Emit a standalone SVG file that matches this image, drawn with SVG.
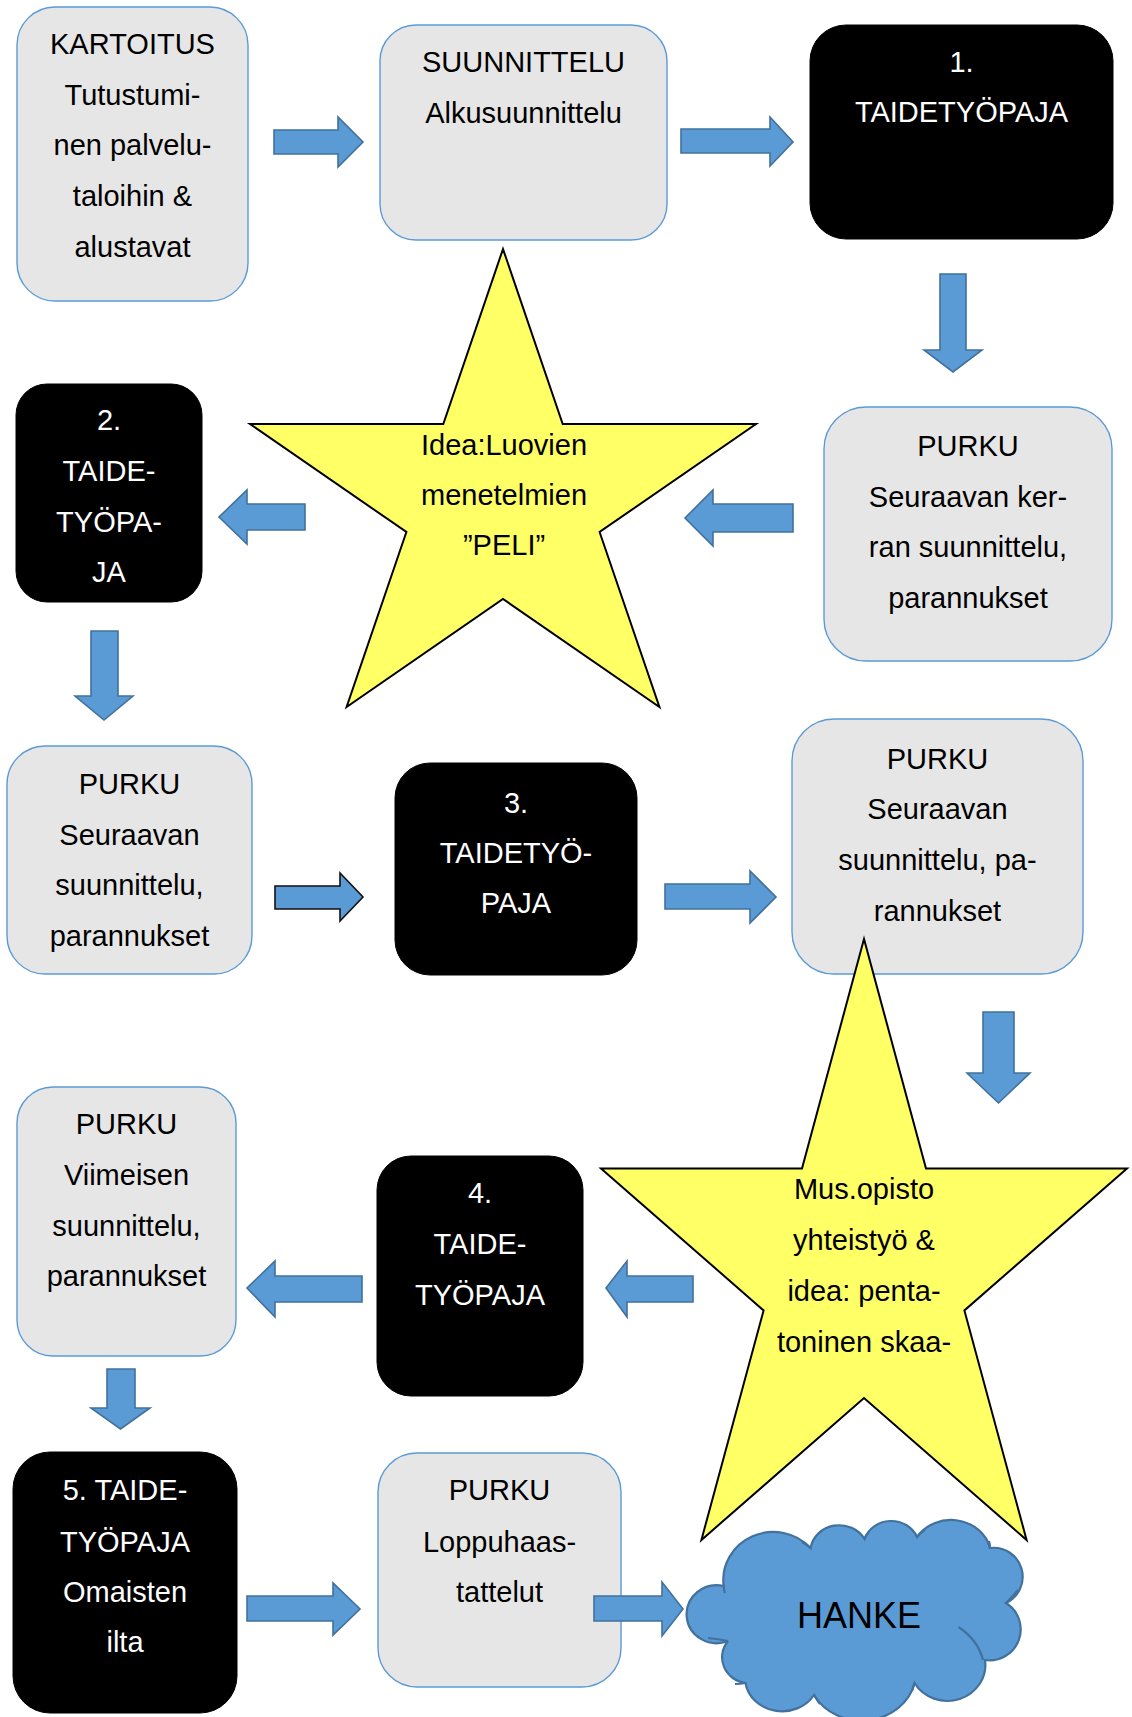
<svg xmlns="http://www.w3.org/2000/svg" width="1132" height="1717" viewBox="0 0 1132 1717">
<style>
.box{fill:#e7e6e6;stroke:#5b9bd5;stroke-width:1.4}
.blk{fill:#000;stroke:#000;stroke-width:1}
.star{fill:#ffff66;stroke:#000;stroke-width:2;stroke-linejoin:miter}
.arr{fill:#5b9bd5;stroke:#41719c;stroke-width:1.6;stroke-linejoin:miter}
.arrk{fill:#5b9bd5;stroke:#111;stroke-width:1.6;stroke-linejoin:miter}
.cloud{fill:#5b9bd5;stroke:#41719c;stroke-width:2.2}
.inner{fill:none;stroke:#41719c;stroke-width:2.2}
text{font-family:"Liberation Sans",Arial,sans-serif;font-size:29px;text-anchor:middle}
.k{fill:#000}
.w{fill:#fff}
</style>
<rect width="1132" height="1717" fill="#fff"/>
<g id="kartoitus">
  <rect class="box" x="17" y="7" width="231" height="294" rx="38"/>
  <text class="k" x="132.5" y="54">KARTOITUS</text>
  <text class="k" x="132.5" y="104.7">Tutustumi-</text>
  <text class="k" x="132.5" y="155.4">nen palvelu-</text>
  <text class="k" x="132.5" y="206">taloihin &amp;</text>
  <text class="k" x="132.5" y="256.8">alustavat</text>
</g>
<g id="suunnittelu">
  <rect class="box" x="380" y="25" width="287" height="215" rx="36"/>
  <text class="k" x="523.5" y="72">SUUNNITTELU</text>
  <text class="k" x="523.5" y="122.5">Alkusuunnittelu</text>
</g>
<g id="tp1">
  <rect class="blk" x="810" y="25" width="303" height="214" rx="36"/>
  <text class="w" x="961.5" y="72">1.</text>
  <text class="w" x="961.5" y="122">TAIDETYÖPAJA</text>
</g>
<g id="purku1">
  <rect class="box" x="824" y="407" width="288" height="254" rx="42"/>
  <text class="k" x="968" y="456">PURKU</text>
  <text class="k" x="968" y="507">Seuraavan ker-</text>
  <text class="k" x="968" y="557">ran suunnittelu,</text>
  <text class="k" x="968" y="608">parannukset</text>
</g>
<g id="star1">
  <polygon class="star" points="503,249 562.7,424 756,424 599.6,532 659.4,707 503,599 346.6,707 406.4,532 250,424 443.3,424"/>
  <text class="k" x="504" y="455">Idea:Luovien</text>
  <text class="k" x="504" y="505">menetelmien</text>
  <text class="k" x="504" y="555">”PELI”</text>
</g>
<g id="tp2">
  <rect class="blk" x="16" y="384" width="186" height="218" rx="31"/>
  <text class="w" x="109" y="430">2.</text>
  <text class="w" x="109" y="481">TAIDE-</text>
  <text class="w" x="109" y="532">TYÖPA-</text>
  <text class="w" x="109" y="582">JA</text>
</g>
<g id="purku2">
  <rect class="box" x="7" y="746" width="245" height="228" rx="38"/>
  <text class="k" x="129.5" y="794">PURKU</text>
  <text class="k" x="129.5" y="845">Seuraavan</text>
  <text class="k" x="129.5" y="895">suunnittelu,</text>
  <text class="k" x="129.5" y="946">parannukset</text>
</g>
<g id="tp3">
  <rect class="blk" x="395" y="763" width="242" height="212" rx="35"/>
  <text class="w" x="516" y="813">3.</text>
  <text class="w" x="516" y="863">TAIDETYÖ-</text>
  <text class="w" x="516" y="913">PAJA</text>
</g>
<g id="purku3">
  <rect class="box" x="792" y="719" width="291" height="255" rx="42"/>
  <text class="k" x="937.5" y="769">PURKU</text>
  <text class="k" x="937.5" y="819">Seuraavan</text>
  <text class="k" x="937.5" y="870">suunnittelu, pa-</text>
  <text class="k" x="937.5" y="921">rannukset</text>
</g>
<g id="star2">
  <polygon class="star" points="864,939 926,1168.5 1127,1168.5 964.4,1310.4 1026.6,1540 864,1398 701.4,1540 763.6,1310.4 601,1168.5 802,1168.5"/>
  <text class="k" x="864" y="1199">Mus.opisto</text>
  <text class="k" x="864" y="1250">yhteistyö &amp;</text>
  <text class="k" x="864" y="1301">idea: penta-</text>
  <text class="k" x="864" y="1352">toninen skaa-</text>
</g>
<g id="tp4">
  <rect class="blk" x="377" y="1156" width="206" height="240" rx="34"/>
  <text class="w" x="480" y="1203">4.</text>
  <text class="w" x="480" y="1254">TAIDE-</text>
  <text class="w" x="480" y="1305">TYÖPAJA</text>
</g>
<g id="purku4">
  <rect class="box" x="17" y="1087" width="219" height="269" rx="36"/>
  <text class="k" x="126.5" y="1134">PURKU</text>
  <text class="k" x="126.5" y="1185">Viimeisen</text>
  <text class="k" x="126.5" y="1236">suunnittelu,</text>
  <text class="k" x="126.5" y="1286">parannukset</text>
</g>
<g id="tp5">
  <rect class="blk" x="13" y="1452" width="224" height="261" rx="37"/>
  <text class="w" x="125" y="1500">5. TAIDE-</text>
  <text class="w" x="125" y="1552">TYÖPAJA</text>
  <text class="w" x="125" y="1602">Omaisten</text>
  <text class="w" x="125" y="1652">ilta</text>
</g>
<g id="purku5">
  <rect class="box" x="378" y="1453" width="243" height="234" rx="39"/>
  <text class="k" x="499.5" y="1500">PURKU</text>
  <text class="k" x="499.5" y="1552">Loppuhaas-</text>
  <text class="k" x="499.5" y="1602">tattelut</text>
</g>
<g id="hanke">
  <path class="cloud" d="M728 1641 A30 29 0 1 1 723.7 1586 A50 48 0 0 1 810.6 1548 A29 27 0 0 1 864.5 1539 A28 26 0 0 1 917 1537 A40 36 0 0 1 990 1548 A29 29 0 0 1 1006 1603 A31 31 0 0 1 985 1660 A38 36 0 0 1 914.5 1683 A54 48 0 0 1 814 1695 A37 33 0 0 1 745.5 1683 A27 26 0 0 1 728 1641 Z"/>
  <path class="inner" d="M723.7 1586 Q724 1590 724.8 1593 M810.6 1548 Q806 1544 801.8 1542 M864.5 1539 Q866 1535 869 1532 M917 1537 Q920 1533 925 1530 M990 1548 Q990 1544 989 1541 M1006 1603 Q1013 1596 1018 1590 M958.5 1627 Q978 1640 983 1660 M914.5 1683 Q913 1688 912 1691 M814 1695 Q817 1700 820 1704 M745.5 1683 Q740 1684 735 1684 M728 1641 Q718 1639 708 1638"/>
  <text class="k" x="859" y="1628" style="font-size:36px">HANKE</text>
</g>
<g id="connectors">
  <path class="arr" d="M274 130 H338 V117 L363 142 L338 167 V154 H274 Z"/>
  <path class="arr" d="M681 129 H770 V117 L793 142 L770 166 V153 H681 Z"/>
  <path class="arr" d="M940 274 V350 H924 L953 372 L982 350 H966 V274 Z"/>
  <path class="arr" d="M793 504 H713 V490 L685 518 L713 546 V532 H793 Z"/>
  <path class="arr" d="M305 504 H247 V490 L219 517 L247 544 V530 H305 Z"/>
  <path class="arr" d="M91 631 V696 H75 L104 720 L133 696 H118 V631 Z"/>
  <path class="arrk" d="M275 886 H340 V873 L363 897 L340 921 V909 H275 Z"/>
  <path class="arr" d="M665 884 H750 V871 L776 897 L750 923 V909 H665 Z"/>
  <path class="arr" d="M983 1012 V1073 H967 L998.5 1103 L1030 1073 H1014 V1012 Z"/>
  <path class="arr" d="M693 1276 H627 V1261 L606 1288 L627 1317 V1302 H693 Z"/>
  <path class="arr" d="M362 1276 H275 V1261 L247 1288 L275 1317 V1302 H362 Z"/>
  <path class="arr" d="M107 1369 V1408 H91 L120.5 1429 L150 1408 H135 V1369 Z"/>
  <path class="arr" d="M247 1596 H333 V1583 L360 1609 L333 1635 V1621 H247 Z"/>
  <path class="arr" d="M594 1596 H662 V1582 L683 1609 L662 1636 V1621 H594 Z"/>
</g>
</svg>
